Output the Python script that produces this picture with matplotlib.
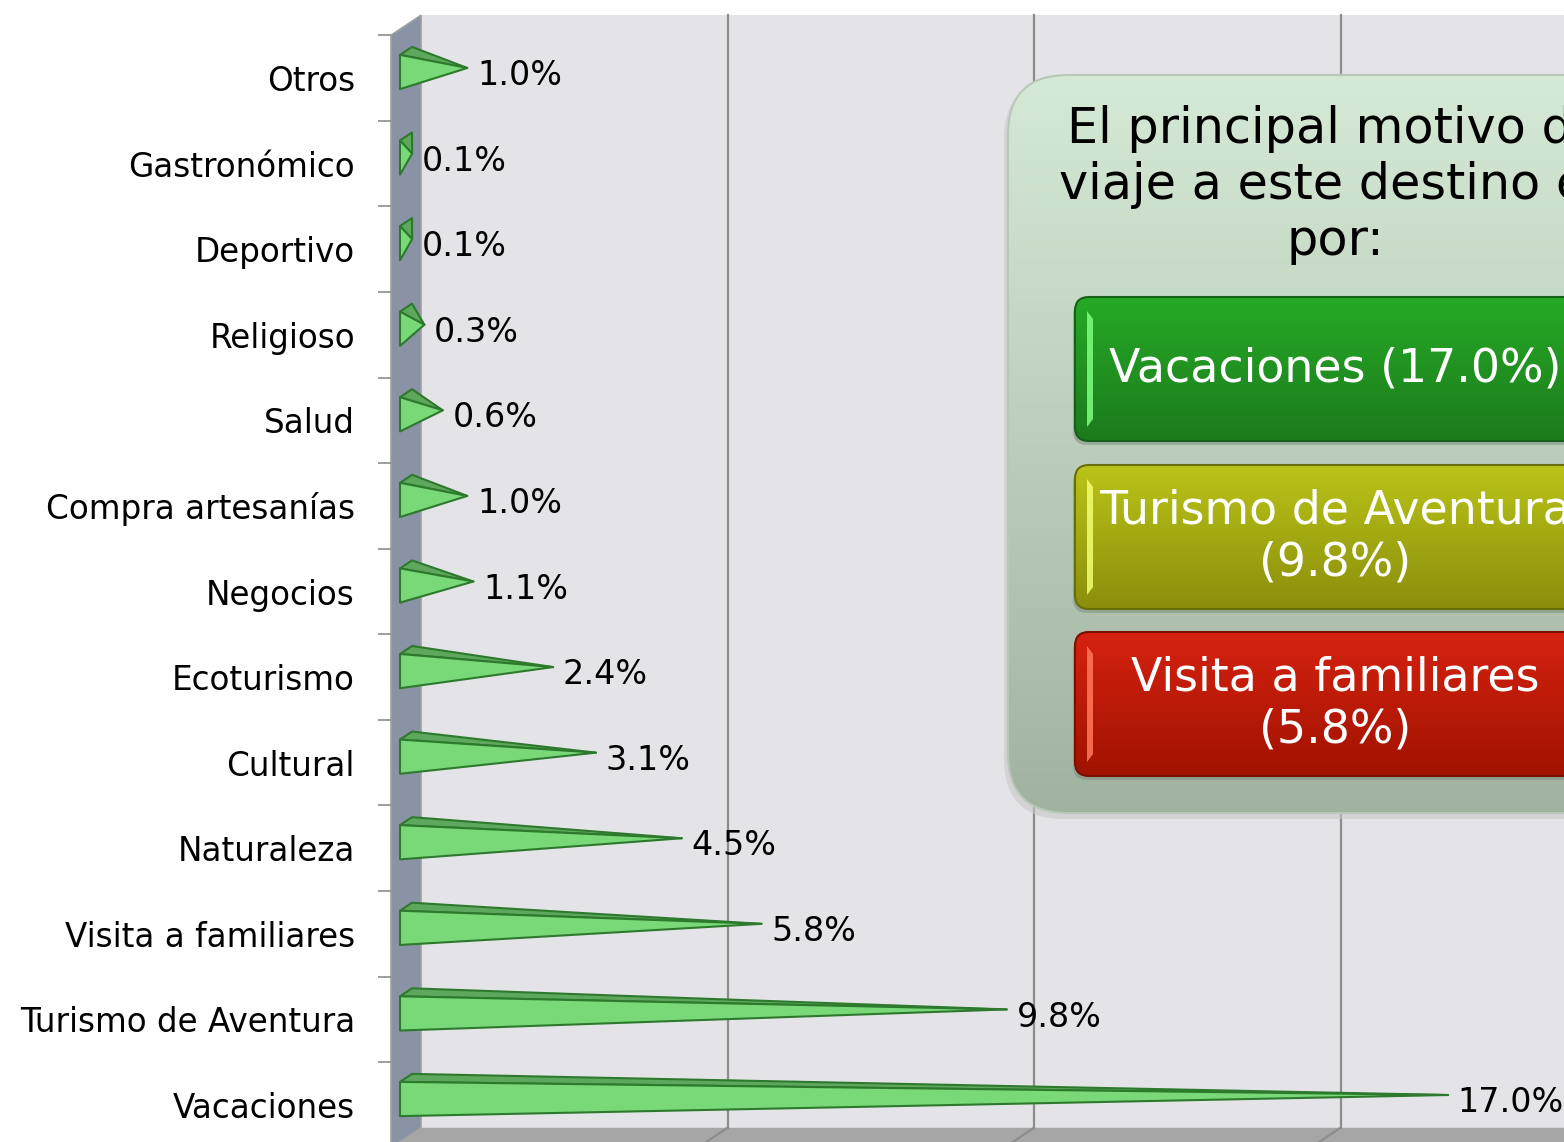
import matplotlib.pyplot as plt
import numpy as np
from matplotlib.patches import Polygon, FancyBboxPatch
from matplotlib.colors import to_rgb

# datos (de abajo hacia arriba)
categorias = ['Vacaciones', 'Turismo de Aventura', 'Visita a familiares', 'Naturaleza',
              'Cultural', 'Ecoturismo', 'Negocios', 'Compra artesanías', 'Salud',
              'Religioso', 'Deportivo', 'Gastronómico', 'Otros']
porcentajes = [17.0, 9.8, 5.8, 4.5, 3.1, 2.4, 1.1, 1.0, 0.6, 0.3, 0.1, 0.1, 1.0]

titulo = 'El principal motivo de\nviaje a este destino es\npor:'
destacados = ['Vacaciones (17.0%)', 'Turismo de Aventura\n(9.8%)', 'Visita a familiares\n(5.8%)']

plt.rcParams['font.family'] = ['DejaVu Sans']

W, H = 1564, 1142
fig = plt.figure(figsize=(W / 100, H / 100), dpi=100)
fig.patch.set_facecolor('white')

# plano frontal del grafico en pixeles
left_px, top_px, bot_px = 391, 35.2, 1147.8
sx = 61.3                       # px por 1%
n = len(categorias)
sy = (bot_px - top_px) / n      # px por categoria
ax = fig.add_axes([left_px / W, (H - bot_px) / H, (W - left_px) / W, (bot_px - top_px) / H])
xmax = (W - left_px) / sx
ax.set_xlim(0, xmax)
ax.set_ylim(-0.5, n - 0.5)

ddx = 30 / sx   # profundidad
ddy = 20 / sy
f1, f2 = 0.3, 0.7
h = 0.2

# paredes
back = Polygon([(ddx, -0.5 + ddy), (xmax + 1, -0.5 + ddy), (xmax + 1, n - 0.5 + ddy), (ddx, n - 0.5 + ddy)],
               closed=True, fc='#e4e4e8', ec='none', clip_on=False, zorder=0)
ax.add_patch(back)
side = Polygon([(0, -0.5), (ddx, -0.5 + ddy), (ddx, n - 0.5 + ddy), (0, n - 0.5)],
               closed=True, fc='#8a93a6', ec='#a0a0a0', lw=1.2, clip_on=False, zorder=1)
ax.add_patch(side)
floor = Polygon([(0, -0.5), (ddx, -0.5 + ddy), (xmax + 1, -0.5 + ddy), (xmax + 1, -0.5)],
                closed=True, fc='#a6a6a6', ec='none', clip_on=False, zorder=1)
ax.add_patch(floor)

for g in [5, 10, 15]:
    ax.plot([g + ddx, g + ddx], [-0.5 + ddy, n - 0.5 + ddy], color='#8c8c8c', lw=1.6, clip_on=False, zorder=2)
    ax.plot([g, g + ddx], [-0.5, -0.5 + ddy], color='#8c8c8c', lw=1.6, clip_on=False, zorder=2)

# conos / piramides
for i, v in enumerate(porcentajes):
    ft = (f1 * ddx, i + h + f1 * ddy)
    fb = (f1 * ddx, i - h + f1 * ddy)
    bt = (f2 * ddx, i + h + f2 * ddy)
    apex = (v + 0.5 * ddx, i + 0.5 * ddy)
    ax.add_patch(Polygon([ft, bt, apex], closed=True, fc='#5ea85e', ec='#2d7a2d', lw=1.5,
                         joinstyle='round', clip_on=False, zorder=3))
    ax.add_patch(Polygon([ft, fb, apex], closed=True, fc='#79d979', ec='#2d7a2d', lw=1.5,
                         joinstyle='round', clip_on=False, zorder=4))
    ax.annotate(f'{v:.1f}%', apex, xytext=(7, -5.5), textcoords='offset points',
                va='center', ha='left', fontsize=24, color='black', zorder=5)

# ejes
for s in ax.spines.values():
    s.set_visible(False)
ax.set_xticks([])
ax.set_yticks(range(n))
ax.set_yticklabels(categorias, fontsize=23.5)
ax.tick_params(axis='y', which='major', length=0, pad=26)
ax.set_yticks(np.arange(-0.5, n, 1), minor=True)
ax.tick_params(axis='y', which='minor', length=9.4, width=1.2, color='#8c8c8c')
ax.patch.set_visible(False)


# recuadro de resumen
ov = fig.add_axes([0, 0, 1, 1], zorder=10)
ov.set_xlim(0, W)
ov.set_ylim(H, 0)
ov.axis('off')
ov.patch.set_visible(False)


def gradient_box(x0, y0, x1, y1, top, bottom, radius, edge, z):
    box = FancyBboxPatch((x0, y0), x1 - x0, y1 - y0,
                         boxstyle=f'round,pad=0,rounding_size={radius}',
                         fc='none', ec=edge, lw=1.5, zorder=z + 0.5)
    ov.add_patch(box)
    t = np.linspace(0, 1, 256)[:, None]
    cols = (1 - t) * np.array(to_rgb(top)) + t * np.array(to_rgb(bottom))
    im = ov.imshow(cols[:, None, :], extent=(x0, x1, y1, y0), origin='upper',
                   aspect='auto', zorder=z)
    im.set_clip_path(box)


# sombra
ov.add_patch(FancyBboxPatch((1004, 79), 660, 740, boxstyle='round,pad=0,rounding_size=60',
                            fc='#c8c8c8', ec='none', alpha=0.6, zorder=1))
gradient_box(1008, 75, 1662, 813, '#d5ead6', '#a2b2a0', 60, '#b8c8b8', 2)
ov.text(1335, 185, titulo, ha='center', va='center', fontsize=35.5, color='black',
        linespacing=1.2, zorder=5)

botones = [(297, 441, '#26aa26', '#1c7a1c', '#17601a', '#80ff80'),
           (465, 609, '#bac418', '#8a8e0c', '#6a6e08', '#f4ff70'),
           (632, 776, '#d62210', '#a01200', '#7a1000', '#ff7a5a')]
for (y0, y1, c_top, c_bot, c_edge, c_hi), txt in zip(botones, destacados):
    ov.add_patch(FancyBboxPatch((1073, y0 + 4), 600, y1 - y0, boxstyle='round,pad=0,rounding_size=14',
                                fc='#7a8a7a', ec='none', alpha=0.5, zorder=3))
    gradient_box(1075, y0, 1640, y1, c_top, c_bot, 14, c_edge, 4)
    ov.add_patch(Polygon([(1087, y0 + 14), (1093, y0 + 22), (1093, y1 - 22), (1087, y1 - 14)],
                         closed=True, fc=c_hi, ec='none', alpha=0.85, zorder=5))
    ov.text(1335, (y0 + y1) / 2, txt, ha='center', va='center', fontsize=33,
            color='white', linespacing=1.2, zorder=6)

fig.savefig('out.png', dpi=100)
